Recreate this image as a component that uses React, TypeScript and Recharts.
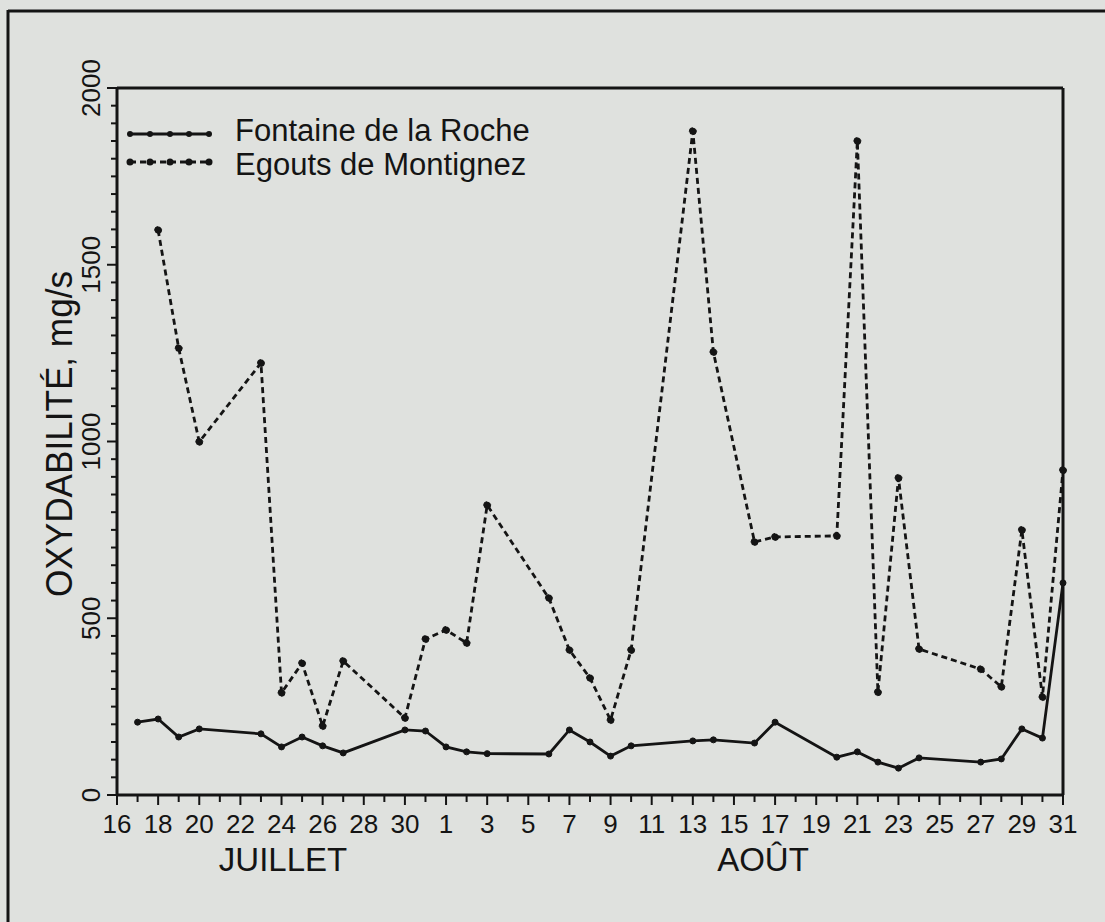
import React from 'react';
import { LineChart, Line, XAxis, YAxis, ReferenceLine } from 'recharts';

// ---- data ----
const fontaineDates = ['07-17','07-18','07-19','07-20','07-23','07-24','07-25','07-26','07-27','07-30','07-31','08-01','08-02','08-03','08-06','08-07','08-08','08-09','08-10','08-13','08-14','08-16','08-17','08-20','08-21','08-22','08-23','08-24','08-27','08-28','08-29','08-30','08-31'];
const fontaineValues = [206,215,164,187,173,136,164,139,119,184,181,136,122,117,116,184,150,110,139,153,156,147,206,107,122,93,76,105,93,102,187,161,600];

const egoutsDates = ['07-18','07-19','07-20','07-23','07-24','07-25','07-26','07-27','07-30','07-31','08-01','08-02','08-03','08-06','08-07','08-08','08-09','08-10','08-13','08-14','08-16','08-17','08-20','08-21','08-22','08-23','08-24','08-27','08-28','08-29','08-30','08-31'];
const egoutsValues = [1598,1264,999,1222,289,373,195,379,218,441,467,430,820,557,410,331,212,410,1878,1253,716,730,733,1850,291,897,413,356,306,750,277,919];

const seriesNames = ['Fontaine de la Roche', 'Egouts de Montignez'];
const monthLabels = ['JUILLET', 'AOÛT'];
const yAxisTitle = 'OXYDABILITÉ, mg/s';

// day index counted from 16 July
const toIndex = (d: string) => {
  const [m, day] = d.split('-').map(Number);
  return m === 7 ? day - 16 : day + 15;
};
const indexToDay = (i: number) => (i <= 15 ? 16 + i : i - 15);

const xTicks = Array.from({ length: 47 }, (_, i) => i);
const yTicks = Array.from({ length: 41 }, (_, i) => i * 50);

const fontaineData = fontaineDates.map((d, i) => ({ x: toIndex(d), v: fontaineValues[i] }));
const egoutsData = egoutsDates.map((d, i) => ({ x: toIndex(d), v: egoutsValues[i] }));

const FONT = '"Liberation Sans", Arial, Helvetica, sans-serif';
const INK = '#141414';
const BG = '#dfe1de';

const XTick = (props: any) => {
  const { x, y, payload } = props;
  const i = payload.value as number;
  const major = i % 2 === 0;
  return (
    <g>
      <line x1={x} x2={x} y1={y} y2={y + (major ? 10 : 7)} stroke={INK} strokeWidth={2} />
      {major && (
        <text x={x} y={y + 38} textAnchor="middle" fontSize={26} fontFamily={FONT} fill={INK}>
          {indexToDay(i)}
        </text>
      )}
    </g>
  );
};

const YTick = (props: any) => {
  const { x, y, payload } = props;
  const v = payload.value as number;
  const major = v % 500 === 0;
  return (
    <g>
      <line x1={x - (major ? 10 : 6)} x2={x} y1={y} y2={y} stroke={INK} strokeWidth={2} />
      {major && (
        <text
          transform={`translate(${x - 17},${y}) rotate(-90)`}
          textAnchor="middle"
          fontSize={26}
          fontFamily={FONT}
          fill={INK}
        >
          {v}
        </text>
      )}
    </g>
  );
};

export default function App() {
  const W = 1105;
  const H = 922;
  return (
    <div style={{ position: 'absolute', left: 0, top: 0, width: W, height: H, background: BG, overflow: 'hidden' }}>
      <LineChart
        width={W}
        height={H}
        margin={{ top: 88, right: 42, bottom: 97, left: 57 }}
      >
        <XAxis
          type="number"
          dataKey="x"
          domain={[0, 46]}
          ticks={xTicks}
          interval={0}
          tick={<XTick />}
          tickLine={false}
          tickSize={0}
          tickMargin={0}
          height={30}
          axisLine={{ stroke: INK, strokeWidth: 3 }}
          allowDuplicatedCategory={false}
        />
        <YAxis
          type="number"
          domain={[0, 2000]}
          ticks={yTicks}
          interval={0}
          tick={<YTick />}
          tickLine={false}
          tickSize={0}
          tickMargin={0}
          width={60}
          axisLine={{ stroke: INK, strokeWidth: 3 }}
        />
        <ReferenceLine y={2000} stroke={INK} strokeWidth={3} />
        <ReferenceLine x={46} stroke={INK} strokeWidth={3} />
        <Line
          data={egoutsData}
          dataKey="v"
          name={seriesNames[1]}
          type="linear"
          stroke={INK}
          strokeWidth={2.8}
          strokeDasharray="6 4"
          dot={{ r: 3.5, fill: INK, stroke: INK, strokeWidth: 1 }}
          isAnimationActive={false}
        />
        <Line
          data={fontaineData}
          dataKey="v"
          name={seriesNames[0]}
          type="linear"
          stroke={INK}
          strokeWidth={2.8}
          dot={{ r: 3, fill: INK, stroke: INK, strokeWidth: 1 }}
          isAnimationActive={false}
        />
      </LineChart>
      <svg
        width={W}
        height={H}
        style={{ position: 'absolute', left: 0, top: 0, pointerEvents: 'none' }}
      >
        {/* outer page frame */}
        <line x1={8} x2={W} y1={11} y2={11} stroke={INK} strokeWidth={3} />
        <line x1={8} x2={8} y1={10} y2={H} stroke={INK} strokeWidth={3} />
        {/* legend */}
        <line x1={130} x2={209} y1={134} y2={134} stroke={INK} strokeWidth={2.8} />
        {[130, 150, 170, 189, 209].map((cx) => (
          <circle key={'a' + cx} cx={cx} cy={134} r={3} fill={INK} />
        ))}
        <line x1={130} x2={209} y1={162} y2={162} stroke={INK} strokeWidth={2.8} strokeDasharray="6 4" />
        {[130, 150, 170, 189, 209].map((cx) => (
          <circle key={'b' + cx} cx={cx} cy={162} r={3.5} fill={INK} />
        ))}
        <text x={235} y={141} fontSize={31} fontFamily={FONT} fill={INK}>{seriesNames[0]}</text>
        <text x={235} y={175} fontSize={31} fontFamily={FONT} fill={INK}>{seriesNames[1]}</text>
        {/* y axis title */}
        <text
          transform="translate(72,434) rotate(-90)"
          textAnchor="middle"
          fontSize={36}
          fontFamily={FONT}
          fill={INK}
          textLength={326}
          lengthAdjust="spacingAndGlyphs"
        >
          {yAxisTitle}
        </text>
        {/* month labels */}
        <text x={283} y={871} textAnchor="middle" fontSize={33} fontFamily={FONT} fill={INK}>{monthLabels[0]}</text>
        <text x={763} y={871} textAnchor="middle" fontSize={33} fontFamily={FONT} fill={INK}>{monthLabels[1]}</text>
      </svg>
    </div>
  );
}
